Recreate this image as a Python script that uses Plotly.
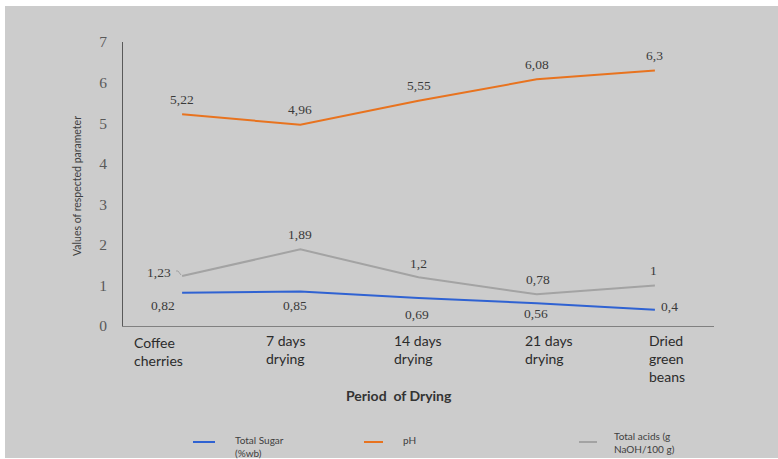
import plotly.graph_objects as go

# ---- data ----
categories = ["Coffee cherries", "7 days drying", "14 days drying", "21 days drying", "Dried green beans"]
tick_labels = ["Coffee<br>cherries", "7 days<br>drying", "14 days<br>drying", "21 days<br>drying", "Dried<br>green<br>beans"]
total_sugar = [0.82, 0.85, 0.69, 0.56, 0.40]
ph_values = [5.22, 4.96, 5.55, 6.08, 6.30]
total_acids = [1.23, 1.89, 1.20, 0.78, 1.00]
series_names = ["Total Sugar<br>(%wb)", "pH", "Total acids (g<br>NaOH/100 g)"]
y_ticks = [0, 1, 2, 3, 4, 5, 6, 7]

# ---- styling ----
W, H = 778, 459
L, R, T, B = 123, 714, 42, 326  # plot area in pixels
colors = ["#2F62D2", "#E8731F", "#A3A3A3"]
BG = "#CCCCCC"
label_font = dict(family="Liberation Serif", size=13.5, color="#3A3A3A")
sans = "Lato"

def px2x(px):
    return (px - L) / (R - L)

def py2y(py):
    return (B - py) / (B - T)

def fmt(v):
    s = f"{v:.2f}".rstrip("0").rstrip(".")
    return s.replace(".", ",")

fig = go.Figure()
series = [total_sugar, ph_values, total_acids]
for vals, col, name in zip(series, colors, series_names):
    fig.add_trace(go.Scatter(x=categories, y=vals, mode="lines", name=name,
                             line=dict(color=col, width=2), showlegend=False,
                             cliponaxis=False, hoverinfo="skip"))

annotations = []
# data labels: offsets (dx, dy) in pixels, plotly yshift up positive
sugar_off = [(-19, -13), (-5, -14), (-2, -16), (-1, -10), (15, 3)]
ph_off = [(0, 15)] * 5
acid_off = [(-23, 4), (0, 15), (0, 14), (1, 15), (-1, 15)]
for vals, offs in [(total_sugar, sugar_off), (ph_values, ph_off), (total_acids, acid_off)]:
    for c, v, (dx, dy) in zip(categories, vals, offs):
        annotations.append(dict(x=c, y=v, xref="x", yref="y", text=fmt(v), showarrow=False,
                                xanchor="center", yanchor="middle",
                                xshift=dx, yshift=dy, font=label_font))

# category labels (left edges / top line in px)
cat_left = [133, 265, 393, 524, 648]
cat_top = [333, 331, 331, 331, 331]
for lbl, lx, ty in zip(tick_labels, cat_left, cat_top):
    annotations.append(dict(x=px2x(lx), y=py2y(ty), xref="paper", yref="paper", text=lbl,
                            showarrow=False, xanchor="left", yanchor="top", align="left",
                            borderpad=0, font=dict(family=sans, size=14, color="#2B2B2B")))

# axis titles
annotations.append(dict(x=px2x(399), y=py2y(396), xref="paper", yref="paper",
                        xanchor="center", yanchor="middle",
                        text="<b>Period  of Drying</b>", showarrow=False,
                        font=dict(family=sans, size=14, color="#333333")))
annotations.append(dict(x=px2x(77), y=py2y(186), xref="paper", yref="paper",
                        xanchor="center", yanchor="middle",
                        text="Values of respected parameter", textangle=-90, showarrow=False,
                        font=dict(family=sans, size=10.5, color="#404040")))

# manual legend
leg_line_x = [(193, 215), (364, 383), (579, 597)]
leg_text = [(233, 446.5), (401, 440), (612, 442)]
shapes = [
    dict(type="rect", xref="paper", yref="paper", x0=px2x(-5), x1=px2x(W + 5), y0=py2y(0), y1=py2y(6),
         fillcolor="white", line=dict(width=0), layer="below"),
    dict(type="rect", xref="paper", yref="paper", x0=px2x(-5), x1=px2x(5), y0=py2y(0), y1=py2y(H + 5),
         fillcolor="white", line=dict(width=0), layer="below"),
    dict(type="rect", xref="paper", yref="paper", x0=px2x(-5), x1=px2x(W + 5), y0=py2y(458), y1=py2y(H + 5),
         fillcolor="white", line=dict(width=0), layer="below"),
    # small leader line from the "1,23" label to its point
    dict(type="path", xref="paper", yref="paper",
         path=f"M {px2x(176)} {py2y(271)} L {px2x(178)} {py2y(271)} L {px2x(181)} {py2y(275)}",
         line=dict(color="#A3A3A3", width=1)),
]
for (x0, x1), (tx, ty), col, name in zip(leg_line_x, leg_text, colors, series_names):
    shapes.append(dict(type="line", xref="paper", yref="paper", x0=px2x(x0), x1=px2x(x1),
                       y0=py2y(442), y1=py2y(442), line=dict(color=col, width=2)))
    annotations.append(dict(x=px2x(tx), y=py2y(ty), xref="paper", yref="paper", text=name,
                            showarrow=False, xanchor="left", yanchor="middle", align="left",
                            font=dict(family=sans, size=10, color="#404040")))

fig.update_layout(
    width=W, height=H,
    margin=dict(l=L, r=W - R, t=T, b=H - B, pad=0),
    paper_bgcolor=BG, plot_bgcolor=BG,
    showlegend=False,
    annotations=annotations, shapes=shapes,
    xaxis=dict(type="category", range=[-0.5, 4.5], showticklabels=False, showgrid=False,
               zeroline=False, showline=True, linecolor="#808080", linewidth=1, ticks="",
               fixedrange=True),
    yaxis=dict(range=[0, 7], tickvals=y_ticks, showgrid=False, zeroline=False, showline=True,
               linecolor="#595959", linewidth=1, ticks="", ticklabelstandoff=12,
               tickfont=dict(family="Liberation Serif", size=15.5, color="#595959"),
               fixedrange=True),
)

fig.write_html("out.html")
